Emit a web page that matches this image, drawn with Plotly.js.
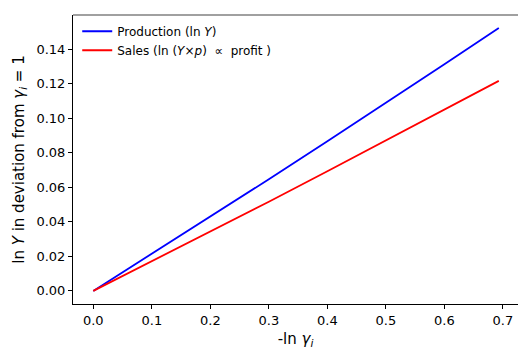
<!DOCTYPE html>
<html>
<head>
<meta charset="utf-8">
<script src="https://cdn.plot.ly/plotly-3.0.1.min.js"></script>
<style>
  html, body { margin: 0; padding: 0; background: #fff; }
  #chart { width: 518px; height: 349px; }
</style>
</head>
<body>
<div id="chart"></div>
<script>
// -ln gamma_i grid, from gamma_i = 1 down to gamma_i = 1/2
const negLnGamma = [0, 0.1, 0.2, 0.3, 0.4, 0.5, 0.6, 0.693];
// Deviation of ln Y (production) from gamma_i = 1
const production = [0, 0.0214, 0.0430, 0.0647, 0.0867, 0.1089, 0.1313, 0.1523];
// Deviation of ln(Y x p) (sales, proportional to profit)
const sales = [0, 0.0171, 0.0343, 0.0517, 0.0693, 0.0871, 0.1049, 0.1217];

const xTicks = [0, 0.1, 0.2, 0.3, 0.4, 0.5, 0.6, 0.7];
const yTicks = [0, 0.02, 0.04, 0.06, 0.08, 0.10, 0.12, 0.14];

const font = "DejaVu Sans, sans-serif";

const traces = [
  {
    x: negLnGamma, y: production, type: "scatter", mode: "lines",
    name: "Production (ln <i>Y</i>)",
    line: { color: "#0000ff", width: 1.8 }
  },
  {
    x: negLnGamma, y: sales, type: "scatter", mode: "lines",
    name: "Sales (ln (<i>Y</i>×<i>p</i>)\u00a0 ∝ \u00a0profit )",
    line: { color: "#ff0000", width: 1.8 }
  }
];

const layout = {
  width: 518, height: 349,
  margin: { l: 73, r: 0, t: 15, b: 45, pad: 0 },
  paper_bgcolor: "#fff", plot_bgcolor: "#fff",
  font: { family: font, size: 13, color: "#000" },
  showlegend: true,
  legend: {
    x: 0.0095, y: 0.994, xanchor: "left", yanchor: "top",
    bgcolor: "rgba(0,0,0,0)", borderwidth: 0,
    font: { family: font, size: 12, color: "#000" },
    itemwidth: 30, tracegroupgap: 0
  },
  xaxis: {
    range: [-0.0347, 0.7258],
    tickvals: xTicks, ticktext: xTicks.map(v => v.toFixed(1)),
    ticks: "outside", ticklen: 4, tickwidth: 1, tickcolor: "#000",
    showgrid: false, zeroline: false,
    showline: true, linecolor: "#000", linewidth: 1,
    tickfont: { family: font, size: 13, color: "#000" },
    title: { text: "-ln <i>γ<sub>i</sub></i>", font: { family: font, size: 15, color: "#000" }, standoff: 6 }
  },
  yaxis: {
    range: [-0.0076, 0.1599],
    tickvals: yTicks, ticktext: yTicks.map(v => v.toFixed(2)),
    ticks: "outside", ticklen: 4, tickwidth: 1, tickcolor: "#000",
    showgrid: false, zeroline: false,
    showline: true, linecolor: "#000", linewidth: 1,
    tickfont: { family: font, size: 13, color: "#000" },
    title: { text: "ln <i>Y</i> in deviation from <i>γ<sub>i</sub></i> = 1", font: { family: font, size: 15, color: "#000" }, standoff: 8 }
  },
  shapes: [
    { type: "line", xref: "paper", yref: "paper", x0: 0, x1: 1, y0: 1, y1: 1,
      line: { color: "#808080", width: 1.5 } }
  ]
};

Plotly.newPlot("chart", traces, layout, { displayModeBar: false, staticPlot: true });
</script>
</body>
</html>
